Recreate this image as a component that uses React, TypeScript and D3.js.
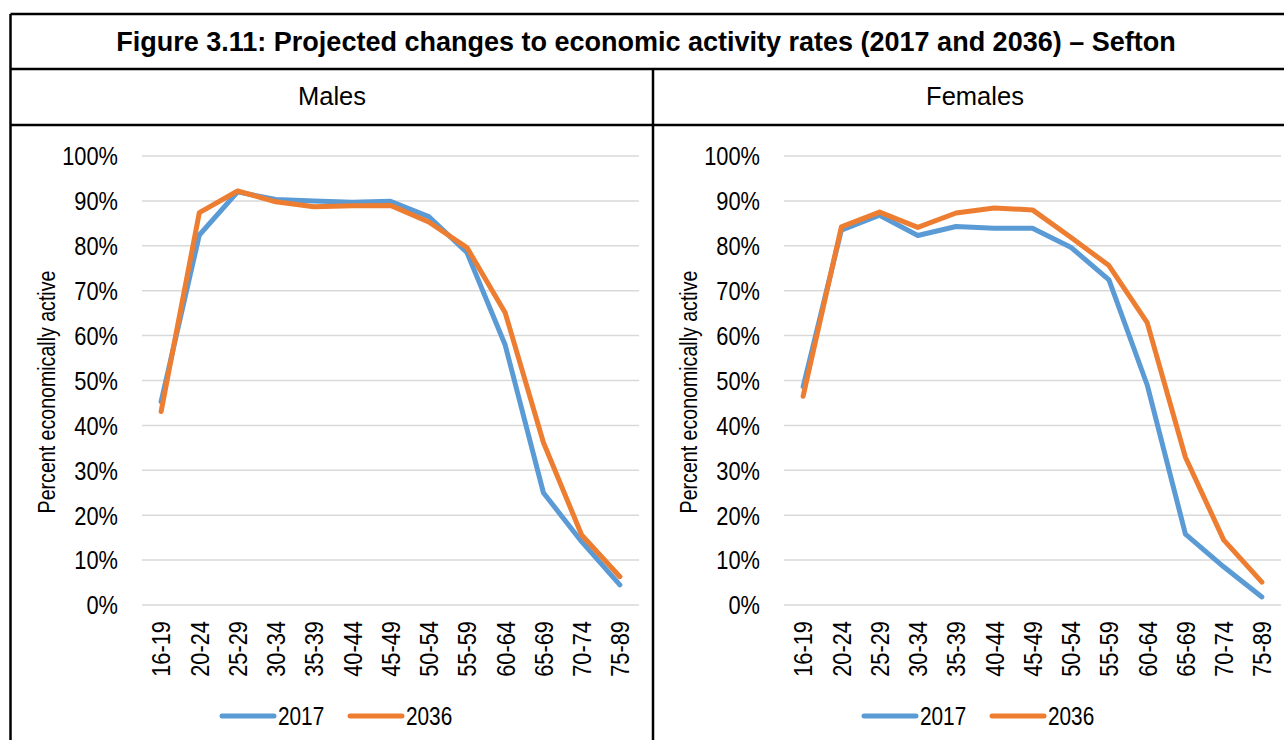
import React from "react";
import * as d3 from "d3";

// age bands on the x axis
const ageGroups = [
  "16-19", "20-24", "25-29", "30-34", "35-39", "40-44", "45-49",
  "50-54", "55-59", "60-64", "65-69", "70-74", "75-89",
];

// percent economically active
const males2017 = [45.3, 82.4, 92.0, 90.3, 90.0, 89.7, 89.9, 86.5, 78.5, 57.9, 25.0, 14.1, 4.5];
const males2036 = [43.1, 87.4, 92.2, 89.8, 88.7, 88.9, 89.0, 85.3, 79.6, 65.1, 36.2, 15.6, 6.3];
const females2017 = [48.6, 83.5, 86.8, 82.3, 84.3, 83.9, 83.9, 79.7, 72.4, 49.0, 15.8, 8.5, 1.8];
const females2036 = [46.5, 84.2, 87.5, 84.1, 87.3, 88.4, 88.0, 81.9, 75.6, 62.9, 32.9, 14.5, 5.1];

const yTicks = [0, 10, 20, 30, 40, 50, 60, 70, 80, 90, 100];
const seriesNames = ["2017", "2036"];
const seriesColors = ["#5B9BD5", "#ED7D31"];

const titleText = "Figure 3.11: Projected changes to economic activity rates (2017 and 2036) \u2013 Sefton";

const regularFont = "'Liberation Sans', Arial, sans-serif";

type NarrowProps = {
  x: number;
  y: number;
  rotate?: number;
  anchor?: "start" | "middle" | "end";
  size: number;
  squeeze?: number;
  children: React.ReactNode;
};

// no Arial Narrow here, so squeeze Liberation Sans horizontally
function Narrow({ x, y, rotate = 0, anchor = "start", size, squeeze = 0.84, children }: NarrowProps) {
  return (
    <text
      transform={`translate(${x},${y}) rotate(${rotate}) scale(${squeeze},1)`}
      dy="0.36em"
      textAnchor={anchor}
      fontFamily={regularFont}
      fontSize={size}
      fill="#000"
    >
      {children}
    </text>
  );
}

type PanelProps = { dx: number; series: number[][] };

function Panel({ dx, series }: PanelProps) {
  const x = d3.scaleBand().domain(ageGroups).range([142 + dx, 639 + dx]);
  const y = d3.scaleLinear().domain([0, 100]).range([605, 156]);
  const line = d3
    .line<number>()
    .x((_, i) => (x(ageGroups[i]) as number) + x.bandwidth() / 2)
    .y((v) => y(v));

  const legendX = 220 + dx;
  return (
    <g>
      {yTicks.map((t) => (
        <g key={t}>
          <line x1={142 + dx} x2={639 + dx} y1={y(t)} y2={y(t)} stroke="#D9D9D9" strokeWidth={1.5} />
          <Narrow x={118 + dx} y={y(t)} anchor="end" size={26}>
            {t + "%"}
          </Narrow>
        </g>
      ))}
      {ageGroups.map((a) => (
        <Narrow key={a} x={(x(a) as number) + x.bandwidth() / 2} y={621} rotate={-90} anchor="end" size={26}>
          {a}
        </Narrow>
      ))}
      <Narrow x={46 + dx} y={392} rotate={-90} anchor="middle" size={24.5} squeeze={0.8}>
        Percent economically active
      </Narrow>
      {series.map((s, i) => (
        <path
          key={i}
          d={line(s) || ""}
          fill="none"
          stroke={seriesColors[i]}
          strokeWidth={5}
          strokeLinejoin="round"
          strokeLinecap="round"
        />
      ))}
      {seriesNames.map((n, i) => {
        const lx = legendX + i * 128;
        return (
          <g key={n}>
            <line x1={lx + 2} x2={lx + 54} y1={716} y2={716} stroke={seriesColors[i]} strokeWidth={5} strokeLinecap="round" />
            <Narrow x={lx + 58} y={716} size={26} squeeze={0.8}>
              {n}
            </Narrow>
          </g>
        );
      })}
    </g>
  );
}

export default function App() {
  const border = "#000";
  return (
    <svg
      width={1284}
      height={740}
      style={{ position: "absolute", left: 0, top: 0, background: "#fff" }}
    >
      <rect x={0} y={0} width={1284} height={740} fill="#fff" />
      <Panel dx={0} series={[males2017, males2036]} />
      <Panel dx={642} series={[females2017, females2036]} />

      {/* table frame */}
      <line x1={10.5} x2={1300} y1={14} y2={14} stroke={border} strokeWidth={2.5} />
      <line x1={10.5} x2={1300} y1={69} y2={69} stroke={border} strokeWidth={2.5} />
      <line x1={10.5} x2={1300} y1={125} y2={125} stroke={border} strokeWidth={2.5} />
      <line x1={10.5} x2={10.5} y1={14} y2={760} stroke={border} strokeWidth={2.5} />
      <line x1={653} x2={653} y1={69} y2={760} stroke={border} strokeWidth={2.5} />

      <text x={646} y={41} dy="0.36em" textAnchor="middle" fontFamily={regularFont} fontWeight="bold" fontSize={27} fill="#000">
        {titleText}
      </text>
      <text x={332} y={96} dy="0.36em" textAnchor="middle" fontFamily={regularFont} fontSize={25.5} fill="#000">
        Males
      </text>
      <text x={975} y={96} dy="0.36em" textAnchor="middle" fontFamily={regularFont} fontSize={25.5} fill="#000">
        Females
      </text>
    </svg>
  );
}
